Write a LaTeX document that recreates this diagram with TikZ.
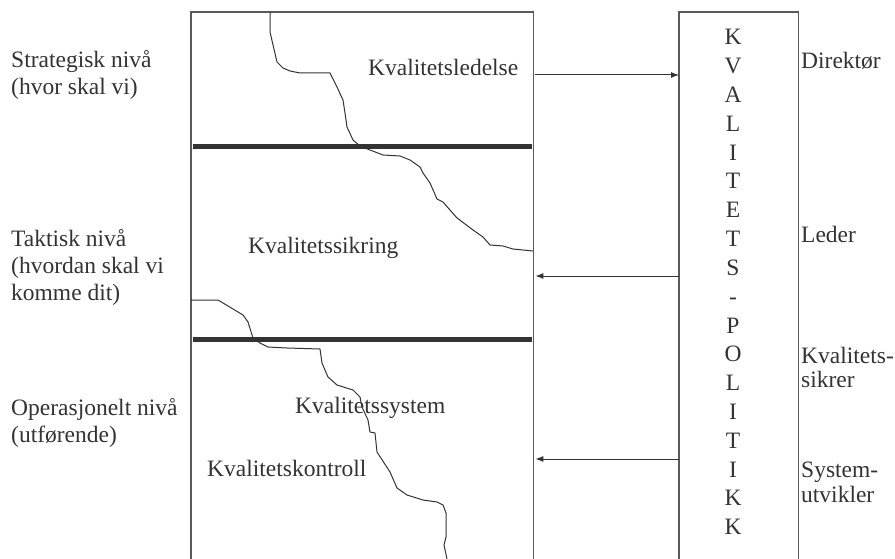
\documentclass[tikz,border=0pt]{standalone}
\usepackage{fontspec}
\setmainfont{Liberation Serif}
\usetikzlibrary{arrows.meta}
\definecolor{ink}{HTML}{333333}
\definecolor{frame}{HTML}{595959}
\begin{document}
\begin{tikzpicture}[x=1pt,y=-1pt,
  txt/.style={inner sep=0pt,anchor=base west,text=ink,font=\fontsize{23.5}{27}\selectfont},
  letter/.style={inner sep=0pt,anchor=base,text=ink,font=\fontsize{23.5}{27}\selectfont},
  boxarea/.style={inner sep=0pt,anchor=north west},
  outline/.style={draw=frame,line width=1.4pt},
  divider/.style={draw=ink,line width=5pt},
  border/.style={draw=ink,line width=1pt,line join=round},
  arr/.style={draw=ink,line width=1pt,-{Latex[length=8pt,width=6pt]}}]
\useasboundingbox (0,0) rectangle (895,559);
% boxes
\node[boxarea,minimum width=342pt,minimum height=547pt] (L) at (191,12) {};
\node[boxarea,minimum width=119pt,minimum height=547pt] (R) at (679,12) {};
\draw[outline] (L.south west) -- (L.north west) -- (L.north east) -- (L.south east);
\draw[outline] (R.south west) -- (R.north west) -- (R.north east) -- (R.south east);
% thick dividers
\coordinate (d1a) at (193,147); \coordinate (d1b) at (532,147);
\coordinate (d2a) at (193,339); \coordinate (d2b) at (532,339);
\draw[divider] (d1a) -- (d1b);
\draw[divider] (d2a) -- (d2b);
% jagged borders
\draw[border] (270,12) -- (270,32) -- (277,62) -- (283,68) -- (290,71) -- (300,73) -- (330,73) -- (337,87) -- (343,100) -- (345,113) -- (347,127) -- (353,140) -- (360,146) -- (370,150) -- (383,155) -- (400,156) -- (410,160) -- (420,167) -- (423,173) -- (430,183) -- (437,199) -- (443,202) -- (457,218) -- (473,230) -- (483,237) -- (490,245) -- (503,246) -- (513,249) -- (533,251);
\draw[border] (191,300) -- (218,300) -- (243,315) -- (248,322) -- (253,338) -- (260,343) -- (268,347) -- (287,348) -- (320,349) -- (322,363) -- (328,377) -- (337,385) -- (353,390) -- (360,397) -- (362,407) -- (368,420) -- (370,432) -- (375,433) -- (377,452) -- (390,472) -- (397,488) -- (407,495) -- (423,500) -- (437,502) -- (443,505) -- (446,513) -- (446,537) -- (444,545) -- (447,559);
% arrows
\draw[arr,shorten <=2pt] (L.east |- 0,75) -- (R.west |- 0,75);
\draw[arr,shorten <=0pt,shorten >=2pt] (R.west |- 0,276) -- (L.east |- 0,276);
\draw[arr,shorten <=0pt,shorten >=2pt] (R.west |- 0,459) -- (L.east |- 0,459);
% left texts
\node[txt] (s1) at (11,68) {Strategisk nivå};
\node[txt] (s2) at (11,95) {(hvor skal vi)};
\node[txt] (t1) at (11,246) {Taktisk nivå};
\node[txt] (t2) at (11,273) {(hvordan skal vi};
\node[txt] (t3) at (11,300) {komme dit)};
\node[txt] (o1) at (11,415) {Operasjonelt nivå};
\node[txt] (o2) at (11,442) {(utførende)};
% inner texts
\node[txt] (kl) at (368,76) {Kvalitetsledelse};
\node[txt] (ks) at (248,253) {Kvalitetssikring};
\node[txt] (ky) at (295,413) {Kvalitetssystem};
\node[txt] (kk) at (207,476) {Kvalitetskontroll};
% right labels
\node[txt] (r1) at (801,69) {Direktør};
\node[txt] (r2) at (801,242) {Leder};
\node[txt] (r3) at (801,363) {Kvalitets-};
\node[txt] (r4) at (801,387) {sikrer};
\node[txt] (r5) at (801,477) {System-};
\node[txt] (r6) at (801,502) {utvikler};
% vertical word
\foreach \ch [count=\i from 0] in {K,V,A,L,I,T,E,T,S,-,P,O,L,I,T,I,K,K}
  \node[letter] (v\i) at (733,45+28.8*\i) {\ch};
\end{tikzpicture}
\end{document}
